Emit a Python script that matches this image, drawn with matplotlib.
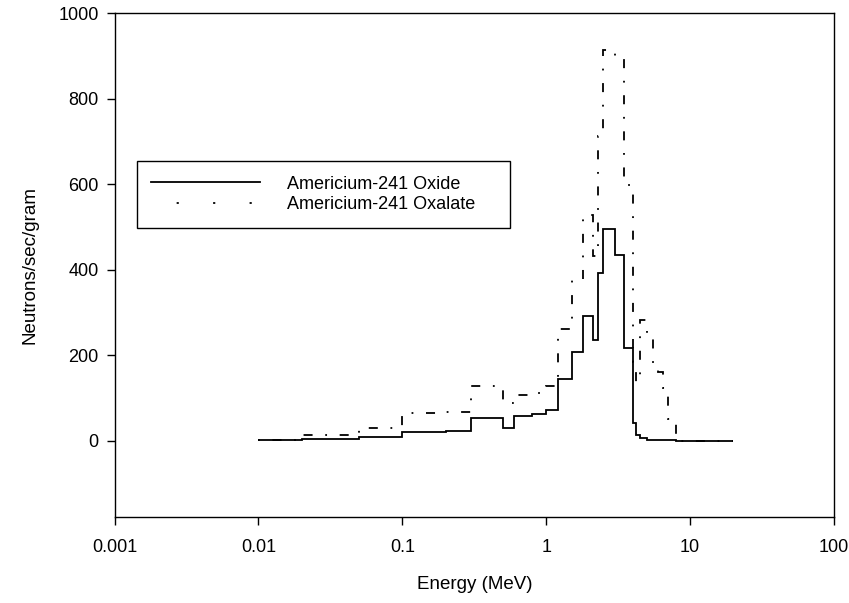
import numpy as np
import matplotlib
matplotlib.use("Agg")
import matplotlib.pyplot as plt
from matplotlib.lines import Line2D

plt.rcParams["font.family"] = ["Liberation Sans", "DejaVu Sans"]

# energy bin edges (MeV) and spectra (neutrons/sec/gram)
edges = [0.01, 0.02, 0.05, 0.1, 0.2, 0.3, 0.5, 0.6, 0.8, 1.0, 1.2, 1.5,
         1.8, 2.1, 2.3, 2.5, 3.0, 3.5, 4.0, 4.2, 4.5, 5.0, 5.5, 6.0, 6.5,
         7.0, 8.0, 20.0]
oxide = [1, 4, 9, 21, 24, 54, 30, 58, 63, 73, 145, 209, 291, 237, 392,
         495, 434, 218, 42, 14, 7, 3, 2, 1, 1, 1, 0]
oxalate = [3, 14, 30, 66, 68, 128, 88, 107, 113, 129, 262, 376, 528, 432,
           714, 913, 897, 599, 185, 138, 282, 253, 183, 162, 124, 52, 0]

labels = ["Americium-241 Oxide", "Americium-241 Oxalate"]
xticks = [0.001, 0.01, 0.1, 1, 10, 100]
xticklabels = ["0.001", "0.01", "0.1", "1", "10", "100"]
yticks = [0, 200, 400, 600, 800, 1000]

fig = plt.figure(figsize=(8.49, 6.03), dpi=100)
ax = fig.add_axes([0.1349, 0.1426, 0.8474, 0.8354])

ax.stairs(oxide, edges, baseline=None, color="black", lw=1.3)
# the plotted dotted line shows dots and short dashes, the legend only dots
ax.stairs(oxalate, edges, baseline=None, color="black", lw=1.3,
          linestyle=(0, (1, 7, 5, 7)))

ax.set_xscale("log")
ax.set_xlim(0.001, 100)
ax.set_ylim(-178, 1000)
ax.set_xticks(xticks)
ax.set_xticklabels(xticklabels)
ax.minorticks_off()
ax.set_yticks(yticks)

ax.tick_params(axis="both", direction="out", length=5.5, width=1,
               labelsize=13, top=False, right=False)
ax.tick_params(axis="x", pad=10)
ax.tick_params(axis="y", pad=6)
for sp in ax.spines.values():
    sp.set_linewidth(1)

ax.set_xlabel("Energy (MeV)", fontsize=13.5, labelpad=15)
ax.set_ylabel("Neutrons/sec/gram", fontsize=13.5, labelpad=14)

handles = [Line2D([], [], color="black", lw=1.3),
           Line2D([], [], color="black", lw=1.3, linestyle=(6, (1.2, 19)))]
leg = ax.legend(handles, labels, loc="upper left",
                bbox_to_anchor=(0.031, 0.556, 0.518, 0.15),
                mode="expand", fontsize=13, handlelength=6,
                handletextpad=1.5, borderpad=0.8, labelspacing=0.2,
                fancybox=False, framealpha=1, borderaxespad=0)
leg.get_frame().set_edgecolor("black")
leg.get_frame().set_linewidth(1)

fig.savefig("out.png", dpi=100)
